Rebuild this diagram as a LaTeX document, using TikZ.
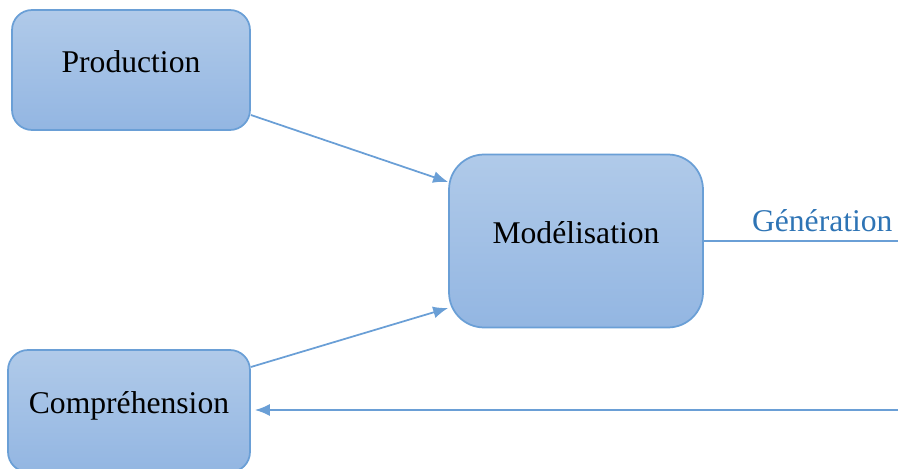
\documentclass[tikz,border=0pt]{standalone}
\usepackage{fontspec}
\setmainfont{Liberation Serif}
\usepackage{xcolor}
\usetikzlibrary{arrows.meta}
\usetikzlibrary{positioning}
\definecolor{Rand}{HTML}{6A9FD6}
\definecolor{Oben}{HTML}{B0CAE9}
\definecolor{Unten}{HTML}{93B6E2}
\definecolor{Schrift}{HTML}{2E74B5}
\tikzset{
  Kasten/.style={draw=Rand, line width=0.035cm, top color=Oben, bottom color=Unten,
    rounded corners=#1, font=\fontsize{18}{22}\selectfont,
    text height=0.5cm, text depth=0.4cm, inner sep=0pt}, % für Kästen
  Kasten/.default=0.4cm,
  Pfeil/.style={Rand, line width=0.035cm, -{Latex[length=0.3cm,width=0.24cm]}}, % für Pfeile
  Linie/.style={Rand, line width=0.035cm}
}
\begin{document}
\begin{tikzpicture}[x=0.02cm, y=-0.02cm]
\useasboundingbox (0,0) rectangle (898,469);

%Kästen
\node[Kasten, minimum width=4.76cm, minimum height=2.4cm] (prod) at (131,70) {Production};
\node[Kasten=0.7cm, minimum width=5.08cm, minimum height=3.46cm] (mod) at (576,241) {Modélisation};
\node[Kasten, minimum width=4.84cm, minimum height=2.44cm] (comp) at (129,411) {Compréhension};

%Randpunkte
\coordinate (gen) at (898,241);
\coordinate (rueck) at (898,410);

%Pfeile
\draw[Pfeil] ([yshift=-0.9cm]prod.east) -- ([yshift=1.18cm]mod.west);
\draw[Pfeil] ([yshift=0.88cm]comp.east) -- ([yshift=-1.34cm]mod.west);
\draw[Linie] (mod.east) -- node[pos=0.61, above=0.04cm, text=Schrift, font=\fontsize{18}{22}\selectfont]{Génération} (gen);
\draw[Pfeil] (rueck) -- ([xshift=0.08cm]comp.east |- rueck);

\end{tikzpicture}
\end{document}
